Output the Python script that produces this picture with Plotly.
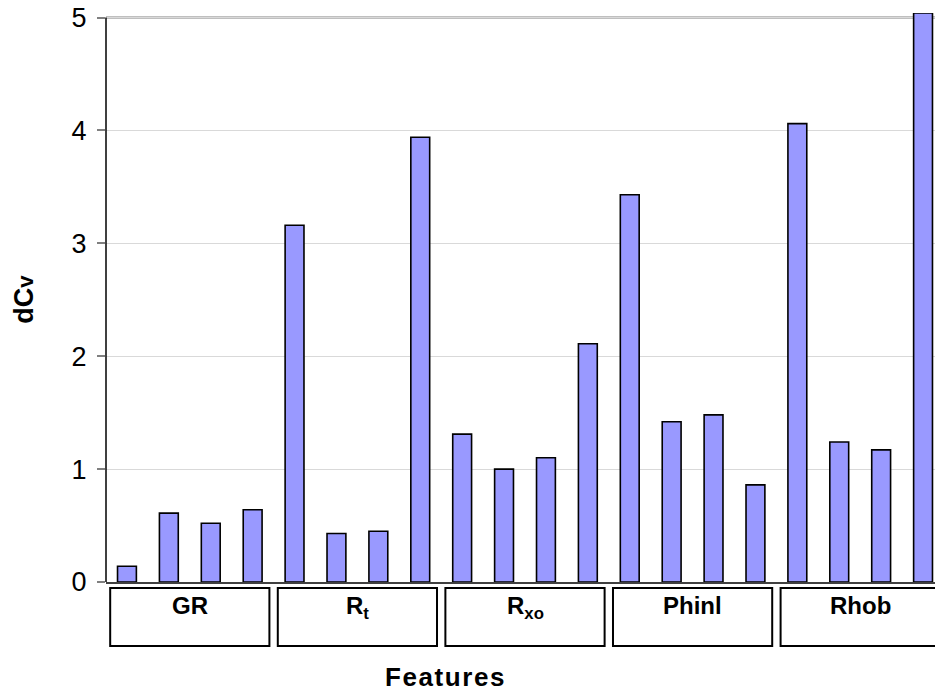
import plotly.graph_objects as go

# Feature groups (four bars each) and their dCv values
groups = ["GR", "R<sub>t</sub>", "R<sub>xo</sub>", "Phinl", "Rhob"]
bars_per_group = 4
dcv = [
    0.14, 0.61, 0.52, 0.64,   # GR
    3.16, 0.43, 0.45, 3.94,   # Rt
    1.31, 1.00, 1.10, 2.11,   # Rxo
    3.43, 1.42, 1.48, 0.86,   # Phinl
    4.06, 1.24, 1.17, 5.04,   # Rhob
]
y_ticks = [0, 1, 2, 3, 4, 5]
y_axis_max = 5          # top of the framed value axis
y_headroom = 0.04       # lets the tallest bar poke over the frame

FONT = "Liberation Sans, Arial, sans-serif"
W, H = 935, 691
PX_PER_UNIT = 112.8
ML, MR, MB = 106, 0, 109
MT = 18 - y_headroom * PX_PER_UNIT
plot_h = H - MT - MB
plot_w = W - ML - MR

x_pos = list(range(len(dcv)))

fig = go.Figure(
    go.Bar(
        x=x_pos,
        y=dcv,
        width=0.45,
        marker=dict(color="#9999ff", line=dict(color="#000000", width=1.6)),
        cliponaxis=False,
        hoverinfo="y",
    )
)

# group boxes under the axis (paper units measured from the zero line)
def below_zero(px):
    return -px / plot_h

shapes = []
annotations = []
for g, name in enumerate(groups):
    start = g * bars_per_group - 0.5
    end = start + bars_per_group
    shapes.append(dict(
        type="rect", xref="x", yref="paper",
        x0=start + 0.1, x1=end - 0.1, y0=below_zero(6), y1=below_zero(64),
        line=dict(color="#000000", width=2), fillcolor="rgba(0,0,0,0)",
        layer="above",
    ))
    annotations.append(dict(
        xref="x", yref="paper", x=(start + end) / 2, y=below_zero(10),
        text=f"<b>{name}</b>", showarrow=False, xanchor="center", yanchor="top",
        borderpad=0, borderwidth=0,
        font=dict(family=FONT, size=24, color="#000000"),
    ))

# frame: grey top border and dark left axis, both ending at the axis maximum
shapes.append(dict(
    type="line", xref="paper", yref="y", x0=0, x1=1, y0=y_axis_max, y1=y_axis_max,
    line=dict(color="#808080", width=2), layer="below",
))
shapes.append(dict(
    type="line", xref="paper", yref="y", x0=0, x1=0, y0=0, y1=y_axis_max,
    line=dict(color="#000000", width=1.5), layer="above",
))

# axis titles
annotations.append(dict(
    xref="paper", yref="paper", x=(24 - ML) / plot_w, y=282 / plot_h,
    text="<b>dC<span style='font-size:22px'>v</span></b>", textangle=-90,
    showarrow=False, xanchor="center", yanchor="middle",
    font=dict(family=FONT, size=27, color="#000000"),
))
annotations.append(dict(
    xref="paper", yref="paper", x=(445 - ML) / plot_w, y=below_zero(95),
    text="<b><span style='letter-spacing:1.6px'>Features</span></b>",
    showarrow=False, xanchor="center", yanchor="middle",
    font=dict(family=FONT, size=26, color="#000000"),
))

fig.update_layout(
    width=W, height=H,
    margin=dict(l=ML, r=MR, t=MT, b=MB, pad=0),
    paper_bgcolor="#ffffff", plot_bgcolor="#ffffff",
    showlegend=False,
    bargap=0.55,
    shapes=shapes,
    annotations=annotations,
    font=dict(family=FONT, color="#000000"),
)
fig.update_xaxes(
    range=[-0.5, -0.5 + plot_w / 41.9],
    showticklabels=False, ticks="", showgrid=False, zeroline=False,
    showline=True, linecolor="#404040", linewidth=2,
)
fig.update_yaxes(
    range=[0, y_axis_max + y_headroom], tickvals=y_ticks,
    ticktext=[str(v) for v in y_ticks],
    ticks="outside", ticklen=8, tickcolor="#808080", tickwidth=1.5,
    ticklabelstandoff=5,
    tickfont=dict(family=FONT, size=27, color="#000000"),
    showgrid=True, gridcolor="#d9d9d9", gridwidth=1,
    zeroline=False, showline=False,
)

fig.write_html("out.html")
